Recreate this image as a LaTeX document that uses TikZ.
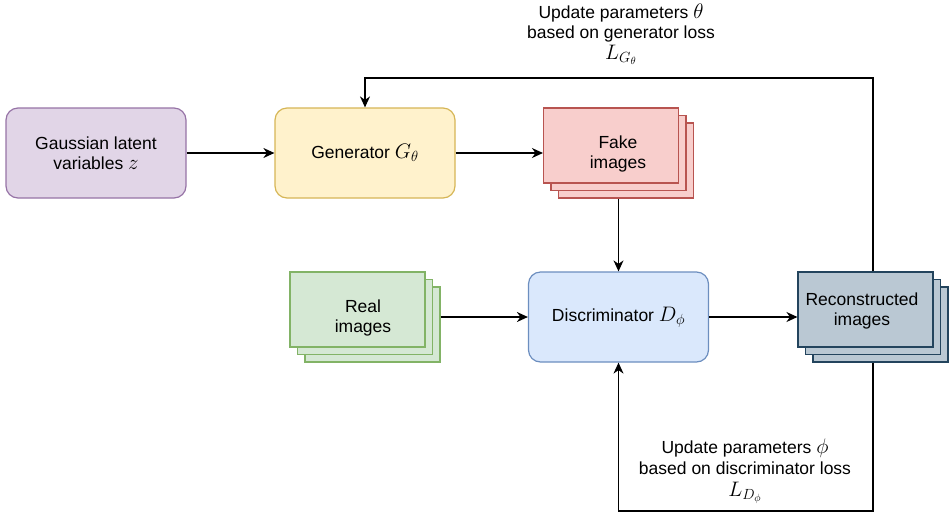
\RequirePackage{fix-cm}
\documentclass[tikz,border=0pt]{standalone}
\usepackage{fontspec}
\setmainfont{Liberation Sans}
\usetikzlibrary{arrows.meta}

\definecolor{gaussfill}{HTML}{E1D5E7}\definecolor{gaussline}{HTML}{9673A6}
\definecolor{genfill}{HTML}{FFF2CC}\definecolor{genline}{HTML}{D6B656}
\definecolor{fakefill}{HTML}{F8CECC}\definecolor{fakeline}{HTML}{B85450}
\definecolor{realfill}{HTML}{D5E8D4}\definecolor{realline}{HTML}{82B366}
\definecolor{discfill}{HTML}{DAE8FC}\definecolor{discline}{HTML}{6C8EBF}
\definecolor{recfill}{HTML}{BAC8D3}\definecolor{recline}{HTML}{23445D}

% formulas set a little larger so their x-height matches the sans text
\newcommand\fml[1]{{\fontsize{21}{20.5}\selectfont$#1$}}

\begin{document}
\begin{tikzpicture}[x=1pt,y=-1pt,
  every node/.style={font=\fontsize{17.5}{20.5}\selectfont, align=center, text=black},
  proc/.style={draw, line width=1.2pt, rounded corners=12pt, minimum width=180pt, minimum height=90pt, inner sep=0pt},
  sheet/.style={draw, line width=1.1pt, minimum width=135pt, minimum height=75pt, inner sep=0pt},
  plain/.style={inner sep=0pt},
  link/.style={line width=1.3pt, -{Stealth[length=11pt,width=10pt,inset=3.5pt]}}]
\useasboundingbox (0,0) rectangle (950,515);

% main blocks
\node[proc, fill=gaussfill, draw=gaussline] (gauss) at (96,153) {Gaussian latent\\variables \fml{z}};
\node[proc, fill=genfill, draw=genline] (gen) at (365,153) {Generator \fml{G_\theta}};
\node[proc, fill=discfill, draw=discline] (disc) at (618.5,317) {Discriminator \fml{D_\phi}};

% fake image stack
\node[sheet, fill=fakefill, draw=fakeline] (fake3) at (626,160.5) {};
\node[sheet, fill=fakefill, draw=fakeline] (fake2) at (618.5,153) {};
\node[sheet, fill=fakefill, draw=fakeline] (fake) at (611,145.5) {};
\node[plain] (faketext) at (618,154) {Fake\\images};

% real image stack
\node[sheet, fill=realfill, draw=realline] (real3) at (372.5,324.5) {};
\node[sheet, fill=realfill, draw=realline] (real2) at (365,317) {};
\node[sheet, fill=realfill, draw=realline] (real) at (357.5,309.5) {};
\node[plain] (realtext) at (363,318) {Real\\images};

% reconstructed image stack
\node[sheet, fill=recfill, draw=recline] (rec3) at (880.5,324.5) {};
\node[sheet, fill=recfill, draw=recline] (rec2) at (873,317) {};
\node[sheet, fill=recfill, draw=recline] (rec) at (865.5,309.5) {};
\node[plain] (rectext) at (862,311) {Reconstructed\\images};

% update labels
\node[plain] (gupd) at (621,34) {Update parameters \fml{\theta}\\based on generator loss\\\fml{L_{G_\theta}}};
\node[plain] (dupd) at (745,471) {Update parameters \fml{\phi}\\[1pt]based on discriminator loss\\[1pt]\fml{L_{D_\phi}}};

% feed-forward connectors
\draw[link] (gauss.east) -- (gen.west);
\draw[link] (gen.east) -- (gen.east -| fake.west);
\draw[link] (disc.north |- fake3.south) -- (disc.north);
\draw[link] (disc.west -| real3.east) -- (disc.west);
\draw[link] (disc.east) -- (disc.east -| rec.west);

% feedback loops
\coordinate (topturn) at (873,78);
\coordinate (botturn) at (873,511);
\draw[link] (rec.north -| topturn) -- (topturn) -- (topturn -| gen.north) -- (gen.north);
\draw[link] (rec3.south -| botturn) -- (botturn) -- (botturn -| disc.south) -- (disc.south);
\end{tikzpicture}
\end{document}
